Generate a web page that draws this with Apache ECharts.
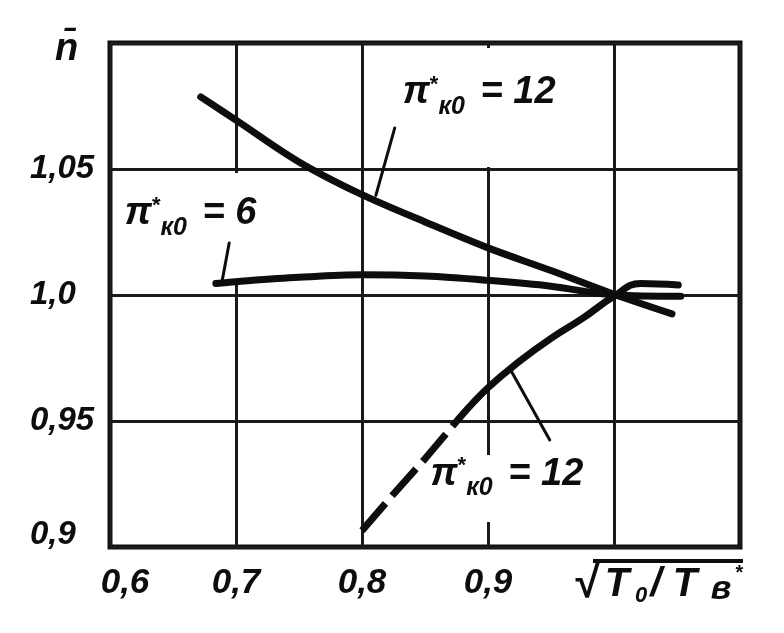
<!DOCTYPE html>
<html><head><meta charset="utf-8">
<script src="https://cdn.jsdelivr.net/npm/echarts@6/dist/echarts.min.js"></script>
<style>html,body{margin:0;padding:0;background:#fff}#c{width:784px;height:633px}</style>
</head><body><div id="c"></div>
<script>
// ---- axes ----
const xTicks = [0.6, 0.7, 0.8, 0.9, 1.0, 1.1];
const xTickLabels = ['0,6', '0,7', '0,8', '0,9', '', ''];
const yTicks = [0.9, 0.95, 1.0, 1.05, 1.1];
const yTickLabels = ['0,9', '0,95', '1,0', '1,05', 'n\u0304'];

// ---- curves ----
// pi*k0 = 12 (upper, falling)
const upperX = [0.672, 0.70, 0.75, 0.80, 0.85, 0.90, 0.95, 1.00, 1.046];
const upperY = [1.0786, 1.0694, 1.0528, 1.0398, 1.0290, 1.0187, 1.0097, 1.0003, 0.9925];
// pi*k0 = 6 (nearly flat)
const sixX = [0.684, 0.70, 0.75, 0.80, 0.85, 0.90, 0.95, 1.00, 1.053];
const sixY = [1.0046, 1.0053, 1.0070, 1.0080, 1.0075, 1.0058, 1.0035, 1.0000, 0.9995];
// pi*k0 = 12 (lower, rising) - dashed part and solid part
const lowerDashX = [0.800, 0.825, 0.850, 0.878];
const lowerDashY = [0.9065, 0.9210, 0.9350, 0.9516];
const lowerSolidX = [0.878, 0.900, 0.925, 0.950, 0.975, 1.000, 1.021, 1.051];
const lowerSolidY = [0.9516, 0.9632, 0.9737, 0.9828, 0.9907, 0.9995, 1.0046, 1.0040];

// ---- leader lines ----
const leaderTopX = [0.826, 0.811];
const leaderTopY = [1.0663, 1.0395];
const leaderSixX = [0.6946, 0.689];
const leaderSixY = [1.0206, 1.0056];
const leaderLowX = [0.918, 0.949];
const leaderLowY = [0.9702, 0.9425];

// ---- annotations ----
const noteX = [0.893, 0.664, 0.915];
const noteY = [1.0744, 1.0266, 0.9232];
const noteValue = ['12', '6', '12'];

const F = '"Liberation Sans","DejaVu Sans",sans-serif';
const INK = '#0d0d0d';

function pairs(xs, ys) { return xs.map((x, i) => [x, ys[i]]); }
function lookup(ticks, labels, v) {
  for (let i = 0; i < ticks.length; i++) if (Math.abs(ticks[i] - v) < 1e-6) return labels[i];
  return '';
}
function txt(size, extra) {
  return Object.assign({fontFamily: F, fontSize: size, fontStyle: 'italic', fontWeight: 'bold', color: INK}, extra || {});
}

const noteRich = {
  p:   txt(38, {lineHeight: 46, verticalAlign: 'top'}),
  st:  txt(22, {fontStyle: 'normal', lineHeight: 22, verticalAlign: 'top'}),
  sub: txt(25, {lineHeight: 24, verticalAlign: 'bottom', padding: [0, 5, 0, 0]}),
  eq:  txt(38, {lineHeight: 46, verticalAlign: 'top'})
};
const notePad = [[26, 2, 47, 2], [22, 2, 42, 2], [0, 2, 21, 2]];

function curve(name, xs, ys, extra) {
  return Object.assign({
    type: 'line', name: name, data: pairs(xs, ys), showSymbol: false, symbol: 'none',
    smooth: 0.35, z: 3, silent: true,
    lineStyle: {color: INK, width: 7, cap: 'round', join: 'round'}
  }, extra || {});
}
function leader(xs, ys) {
  return {type: 'line', data: pairs(xs, ys), symbol: 'none', z: 3, silent: true,
    lineStyle: {color: INK, width: 3, cap: 'round'}};
}

const chart = echarts.init(document.getElementById('c'), null, {renderer: 'canvas'});
chart.setOption({
  animation: false,
  backgroundColor: '#fff',
  grid: {left: 110, right: 44, top: 43, bottom: 86, show: true, borderColor: INK, borderWidth: 5, backgroundColor: 'transparent'},
  xAxis: {
    type: 'value', min: 0.6, max: 1.1, interval: 0.1,
    axisLine: {show: false}, axisTick: {show: false},
    splitLine: {show: true, lineStyle: {color: '#1a1a1a', width: 3}},
    axisLabel: Object.assign(txt(35), {
      margin: 19,
      formatter: v => {
        const t = lookup(xTicks, xTickLabels, v);
        return Math.abs(v - 0.6) < 1e-6 ? '{f|' + t + '}' : t;
      },
      rich: {f: txt(35, {padding: [0, 0, 0, 30]})}
    }),
    name: '{bar|}\n{sq|\u221A}{t1|T}{s0|0}{sl|/}{t2|T}{sb|\u0432}{st|*}',
    nameLocation: 'end', nameGap: 3,
    nameTextStyle: {
      align: 'right', verticalAlign: 'top', padding: [12, 0, 0, 0],
      rich: {
        bar: {width: 150, height: 4, lineHeight: 4, fontSize: 4, backgroundColor: INK},
        sq: {fontFamily: F, fontSize: 44, fontWeight: 'bold', color: INK, lineHeight: 44, width: 25, align: 'center'},
        t1: txt(40, {lineHeight: 44, width: 34, align: 'center'}),
        s0: txt(22, {lineHeight: 22, verticalAlign: 'bottom', width: 14, align: 'center'}),
        sl: txt(40, {lineHeight: 44, width: 16, align: 'center'}),
        t2: txt(40, {lineHeight: 44, width: 42, align: 'center'}),
        sb: txt(34, {lineHeight: 32, verticalAlign: 'bottom', width: 30, align: 'center'}),
        st: txt(20, {fontStyle: 'normal', lineHeight: 20, verticalAlign: 'top', width: 7, align: 'center'})
      }
    }
  },
  yAxis: {
    type: 'value', min: 0.9, max: 1.1, interval: 0.05,
    axisLine: {show: false}, axisTick: {show: false},
    splitLine: {show: true, lineStyle: {color: '#1a1a1a', width: 3}},
    axisLabel: Object.assign(txt(33), {
      margin: 80, align: 'left',
      formatter: v => {
        const t = lookup(yTicks, yTickLabels, v);
        if (Math.abs(v - 0.9) < 1e-6) return '{r|' + t + '}';
        if (Math.abs(v - 1.1) < 1e-6) return '{n|' + t + '}';
        return t;
      },
      rich: {
        r: txt(33, {padding: [0, 0, 24, 0]}),
        n: txt(38, {padding: [14, 0, 0, 25]})
      }
    })
  },
  series: [
    curve('upper12', upperX, upperY),
    curve('six', sixX, sixY),
    curve('lower12dash', lowerDashX, lowerDashY, {smooth: false, lineStyle: {color: INK, width: 7, type: [36, 10], cap: 'butt'}}),
    curve('lower12', lowerSolidX, lowerSolidY, {smooth: 0.45}),
    leader(leaderTopX, leaderTopY),
    leader(leaderSixX, leaderSixY),
    leader(leaderLowX, leaderLowY),
    {
      type: 'scatter', z: 1, silent: true, symbolSize: 0,
      itemStyle: {color: '#fff', opacity: 1},
      data: noteX.map((x, i) => ({
        value: [x, noteY[i]],
        label: {
          show: true, position: 'inside', backgroundColor: '#fff', padding: notePad[i],
          color: INK, textBorderWidth: 0, opacity: 1,
          formatter: '{p|\u03C0}{st|*}{sub|\u043A0}{eq| = ' + noteValue[i] + '}',
          rich: noteRich
        }
      }))
    }
  ]
});
</script></body></html>
